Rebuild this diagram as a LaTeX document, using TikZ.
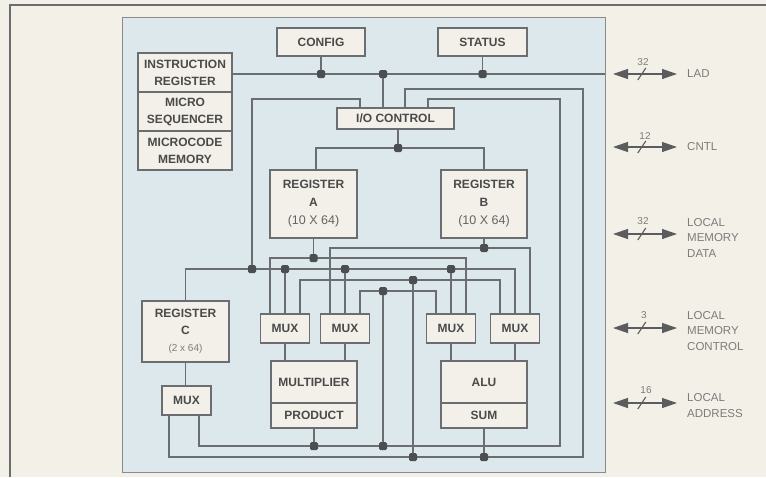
\documentclass[tikz,border=0pt]{standalone}
\usepackage{fontspec}
\setmainfont{Liberation Sans}
\usetikzlibrary{arrows.meta}
\definecolor{paper}{HTML}{F3F0E7}
\definecolor{panel}{HTML}{DDE8EC}
\definecolor{boxfill}{HTML}{F2F0E8}
\definecolor{wiregray}{HTML}{6B6E70}
\definecolor{inkgray}{HTML}{4A4A4A}
\definecolor{dotgray}{HTML}{4B4F52}
\definecolor{labelgray}{HTML}{7C7C7C}
\definecolor{portgray}{HTML}{5A5C5E}

\begin{document}
\begin{tikzpicture}[x=1pt,y=-1pt,
  wire/.style={draw=wiregray, line width=1.2pt},
  blk/.style={draw=wiregray, fill=boxfill, line width=1.2pt, inner sep=0pt,
    align=center, text=inkgray, font=\bfseries\fontsize{12}{17}\selectfont},
  muxbox/.style={blk, minimum width=49pt, minimum height=29pt},
  jn/.style={fill=dotgray, rectangle, rounded corners=1.5pt, minimum size=8pt, inner sep=0pt},
  port/.style={draw=portgray, line width=1.3pt,
    {Triangle[length=15pt,width=10pt]}-{Triangle[length=15pt,width=10pt]}},
  num/.style={text=labelgray, font=\fontsize{10}{12}\selectfont, inner sep=0pt},
  lbl/.style={text=labelgray, font=\fontsize{11.5}{15.5}\selectfont, align=left,
    anchor=west, inner sep=0pt},
  busmark/.pic={\draw[-, portgray, line width=1.1pt] (-4,6) -- (4,-6);}
]
% page and chip outline
\fill[paper] (0,0) rectangle (766,477);
\useasboundingbox (0,0) rectangle (766,477);
\draw[wiregray, line width=1.3pt] (10,477) -- (10,5) -- (766,5);
\draw[draw=wiregray!80, fill=panel, line width=1pt] (122,17) rectangle (605,472);

% blocks
\node[blk, minimum width=88pt, minimum height=28pt] (cfg) at (321,42) {CONFIG};
\node[blk, minimum width=89pt, minimum height=28pt] (stat) at (482.5,42) {STATUS};
\node[blk, minimum width=94pt, minimum height=39pt] (ir) at (185,72.5) {INSTRUCTION\\REGISTER};
\node[blk, minimum width=94pt, minimum height=39pt] (mseq) at (185,111.5) {MICRO\\SEQUENCER};
\node[blk, minimum width=94pt, minimum height=39pt] (mcode) at (185,150.5) {MICROCODE\\MEMORY};
\node[blk, minimum width=117pt, minimum height=21pt] (ioc) at (395.5,118.5) {I/O CONTROL};
\node[blk, minimum width=87pt, minimum height=68pt, font=\bfseries\fontsize{12}{18}\selectfont]
  (rega) at (313.5,204) {REGISTER\\A\\{\mdseries\color{labelgray!80!black}\fontsize{12.5}{18}\selectfont (10 X 64)}};
\node[blk, minimum width=86pt, minimum height=68pt, font=\bfseries\fontsize{12}{18}\selectfont]
  (regb) at (484,204) {REGISTER\\B\\{\mdseries\color{labelgray!80!black}\fontsize{12.5}{18}\selectfont (10 X 64)}};
\node[blk, minimum width=87pt, minimum height=61pt]
  (regc) at (185.5,331.5) {REGISTER\\C\\{\mdseries\color{labelgray}\fontsize{10}{17}\selectfont (2 x 64)}};
\node[muxbox] (muxc) at (186.5,400.5) {MUX};
\node[muxbox] (mux1) at (285,328.5) {MUX};
\node[muxbox] (mux2) at (345,328.5) {MUX};
\node[muxbox] (mux3) at (451,328.5) {MUX};
\node[muxbox] (mux4) at (515,328.5) {MUX};
\node[blk, minimum width=86pt, minimum height=42pt] (mult) at (314,382) {MULTIPLIER};
\node[blk, minimum width=86pt, minimum height=25pt] (prod) at (314,415.5) {PRODUCT};
\node[blk, minimum width=86pt, minimum height=42pt] (alu) at (484,382) {ALU};
\node[blk, minimum width=86pt, minimum height=25pt] (sum) at (484,415.5) {SUM};

% junction points
\coordinate (ladE) at (605,74);
\coordinate (dCfg) at (321,74);
\coordinate (dIO) at (383,74);
\coordinate (dSt) at (482.5,74);
\coordinate (dIOb) at (398,148);
\coordinate (dA) at (313.5,258);
\coordinate (dB) at (484,248);
\coordinate (dL) at (252,269);
\coordinate (d1) at (285,269);
\coordinate (d2) at (345,269);
\coordinate (d3) at (451,269);
\coordinate (dD) at (413,280);
\coordinate (dF) at (383,291);
\coordinate (dP) at (314,446);
\coordinate (dG) at (383,446);
\coordinate (dE) at (413,457);
\coordinate (dS) at (484,457);

% LAD bus and its taps
\draw[wire] (ir.east |- ladE) -- (ladE);
\draw[wire] (cfg.south) -- (dCfg);
\draw[wire] (stat.south) -- (dSt);
\draw[wire] (dIO) -- (dIO |- ioc.north);

% I/O control loops
\draw[wire] (ioc.north -| 360,0) |- (252,99) -- (dL);
\draw[wire] (muxc.south -| 169,0) |- (583,457) -- (583,89) -| (ioc.north -| 405,0);
\draw[wire] (muxc.south -| 199,0) |- (560,446) -- (560,99) -| (ioc.north -| 428,0);
\draw[wire] (ioc.south -| dIOb) -- (dIOb);
\draw[wire] (rega.north -| 316,0) |- (dIOb) -| (regb.north);

% register outputs
\draw[wire] (rega.south -| dA) -- (dA);
\draw[wire] (regb.south -| dB) -- (dB);

% operand buses into the multiplexers
\draw[wire] (mux1.north -| 270,0) |- (dA) -| (mux3.north -| 466,0);
\draw[wire] (mux2.north -| 330,0) |- (dB) -| (mux4.north -| 530,0);
\draw[wire] (regc.north) |- (d3) -| (mux4.north);
\draw[wire] (d1) -- (mux1.north);
\draw[wire] (d2) -- (mux2.north);
\draw[wire] (d3) -- (mux3.north);
\draw[wire] (mux1.north -| 300,0) |- (dD) -| (mux4.north -| 500,0);
\draw[wire] (mux2.north -| 360,0) |- (dF) -| (mux3.north -| 436,0);
\draw[wire] (dD) -- (dE);
\draw[wire] (dF) -- (dG);

% multiplexer outputs and results
\draw[wire] (mux1.south) -- (mux1.south |- mult.north);
\draw[wire] (mux2.south) -- (mux2.south |- mult.north);
\draw[wire] (mux3.south) -- (mux3.south |- alu.north);
\draw[wire] (mux4.south) -- (mux4.south |- alu.north);
\draw[wire] (prod.south) -- (dP);
\draw[wire] (sum.south) -- (dS);
\draw[wire] (regc.south) -- (regc.south |- muxc.north);

% junction dots on top
\foreach \d in {dCfg,dIO,dSt,dIOb,dA,dB,dL,d1,d2,d3,dD,dF,dP,dG,dE,dS}
  \node[jn] at (\d) {};

% external ports
\coordinate (p1a) at (613,74);  \coordinate (p1b) at (677,74);
\coordinate (p2a) at (613,147); \coordinate (p2b) at (677,147);
\coordinate (p3a) at (613,234); \coordinate (p3b) at (677,234);
\coordinate (p4a) at (613,328); \coordinate (p4b) at (677,328);
\coordinate (p5a) at (613,403); \coordinate (p5b) at (677,403);
\draw[port] (p1a) -- (p1b) pic[pos=0.45] {busmark};
\draw[port] (p2a) -- (p2b) pic[pos=0.45] {busmark};
\draw[port] (p3a) -- (p3b) pic[pos=0.45] {busmark};
\draw[port] (p4a) -- (p4b) pic[pos=0.45] {busmark};
\draw[port] (p5a) -- (p5b) pic[pos=0.45] {busmark};
\node[num] (w1) at (643,62) {32};
\node[num] (w2) at (645,136) {12};
\node[num] (w3) at (643,221) {32};
\node[num] (w4) at (644,315) {3};
\node[num] (w5) at (646,390) {16};
\node[lbl] (n1) at (687,74) {LAD};
\node[lbl] (n2) at (687,147) {CNTL};
\node[lbl] (n3) at (687,237.5) {LOCAL\\MEMORY\\DATA};
\node[lbl] (n4) at (687,331) {LOCAL\\MEMORY\\CONTROL};
\node[lbl] (n5) at (687,405.5) {LOCAL\\ADDRESS};
\end{tikzpicture}
\end{document}
